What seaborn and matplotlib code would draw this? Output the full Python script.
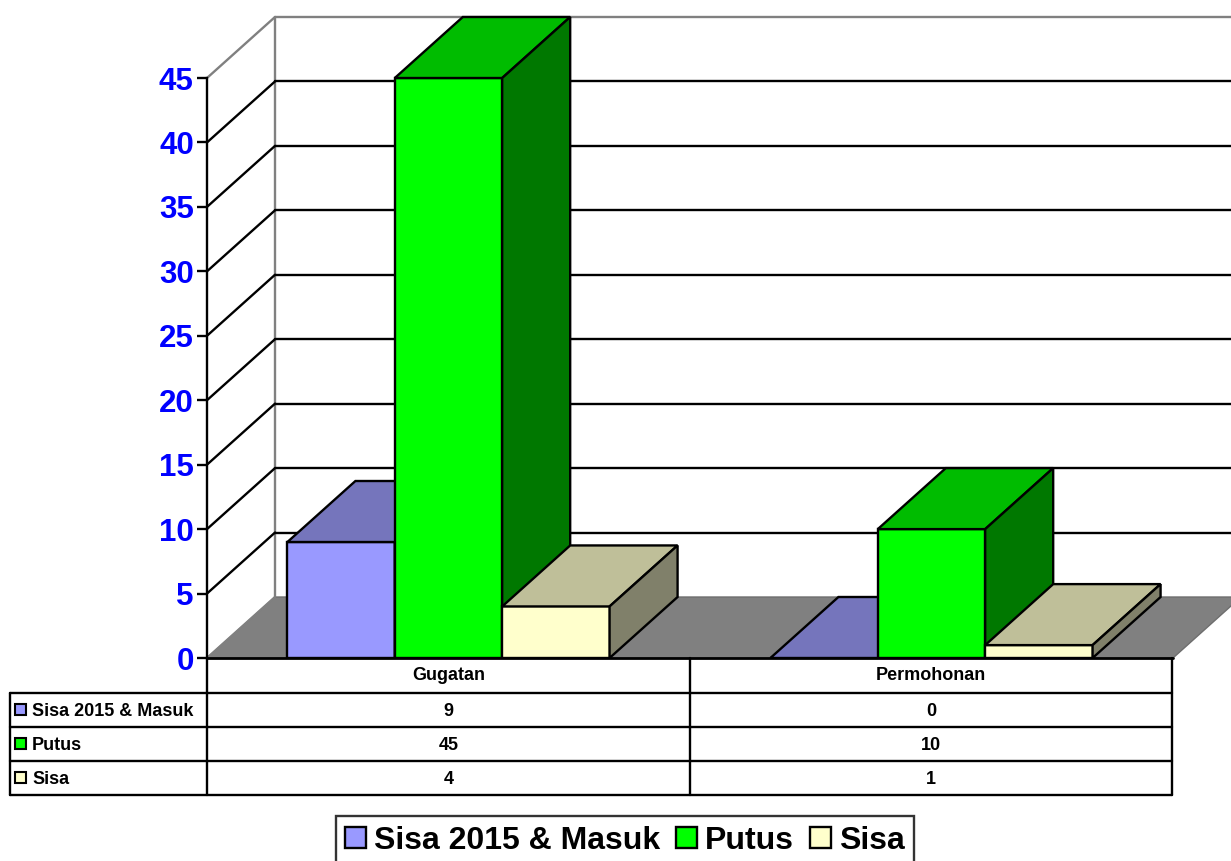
import numpy as np
import pandas as pd
import matplotlib
matplotlib.use("Agg")
import matplotlib.pyplot as plt
from matplotlib.patches import Polygon, Patch, Rectangle
import seaborn as sns

# ---------------- data ----------------
categories = ["Gugatan", "Permohonan"]
series = ["Sisa 2015 & Masuk", "Putus", "Sisa"]
sisa_masuk = [9, 0]
putus = [45, 10]
sisa = [4, 1]
y_ticks = [0, 5, 10, 15, 20, 25, 30, 35, 40, 45]

front_colors = ["#9999FF", "#00FF00", "#FFFFCC"]
top_colors = ["#7575BC", "#00BC00", "#BFBF99"]
side_colors = ["#4D4D80", "#007800", "#80806A"]

values = {series[0]: sisa_masuk, series[1]: putus, series[2]: sisa}
df = pd.DataFrame(
    [(c, s, values[s][i]) for s in series for i, c in enumerate(categories)],
    columns=["cat", "ser", "val"],
)

sns.set_theme(style="white")
plt.rcParams["font.family"] = ["Liberation Sans", "DejaVu Sans"]
plt.rcParams["text.color"] = "black"
plt.rcParams["axes.edgecolor"] = "black"
plt.rcParams["ytick.color"] = "black"

W, H = 1231, 861
fig = plt.figure(figsize=(W / 100, H / 100), dpi=100)

px_per_unit_y = (658 - 78) / 45.0
px_per_cat = 483.0
ax = fig.add_axes([207 / W, (H - 658) / H, (W - 207) / W, 658 / H])
ymax = 658 / px_per_unit_y
xmin = -0.5
xmax = -0.5 + (W - 207) / px_per_cat
dx = 68 / px_per_cat
dy = 61 / px_per_unit_y
LW = 1.7

sns.barplot(data=df, x="cat", y="val", hue="ser", order=categories,
            hue_order=series, palette=front_colors, width=0.667,
            edgecolor="black", linewidth=LW, saturation=1, legend=False,
            ax=ax, zorder=10)

ax.set_xlim(xmin, xmax)
ax.set_ylim(0, ymax)
ax.set_xlabel("")
ax.set_ylabel("")
ax.set_xticks([])
for s in ["top", "right", "bottom"]:
    ax.spines[s].set_visible(False)
ax.spines["left"].set_bounds(0, 45)
ax.spines["left"].set_linewidth(LW)
ax.spines["left"].set_color("black")
ax.spines["left"].set_zorder(30)
ax.set_yticks(y_ticks)
ax.tick_params(axis="y", direction="out", length=7.5, width=LW,
               color="black", left=True, pad=2)
for lab in ax.get_yticklabels():
    lab.set_color("#0000FF")
    lab.set_fontweight("bold")
    lab.set_fontsize(22.5)
    lab.set_family(["Liberation Sans", "DejaVu Sans"])

# floor
floor_right = len(categories) - 0.5
ax.add_patch(Polygon([(xmin, 0), (floor_right, 0), (floor_right + dx, dy),
                      (xmin + dx, dy)], closed=True, facecolor="#808080",
                     edgecolor="#6E6E6E", linewidth=1, zorder=2))
# back wall lines
ax.plot([xmin + dx, xmin + dx], [dy, 45 + dy], color="#808080", lw=LW, zorder=3)
ax.plot([xmin + dx, xmax + 1], [45 + dy, 45 + dy], color="#808080", lw=LW, zorder=3)
for v in y_ticks[1:-1]:
    ax.plot([xmin + dx, xmax + 1], [v + dy, v + dy], color="black", lw=LW, zorder=3)
for v in y_ticks:
    col = "#808080" if v in (0, 45) else "black"
    ax.plot([xmin, xmin + dx], [v, v + dy], color=col, lw=LW, zorder=3)

# 3D faces derived from seaborn bars
bars = sorted([p for p in ax.patches if isinstance(p, Rectangle)],
              key=lambda p: p.get_x())
for i, p in enumerate(bars):
    x0 = p.get_x()
    x1 = x0 + p.get_width()
    h = p.get_height()
    fc = matplotlib.colors.to_hex(p.get_facecolor())
    k = [c.lower() for c in front_colors].index(fc.lower())
    z = 10 + i * 3
    p.set_zorder(z)
    ax.add_patch(Polygon([(x0, h), (x1, h), (x1 + dx, h + dy), (x0 + dx, h + dy)],
                         closed=True, facecolor=top_colors[k], edgecolor="black",
                         linewidth=LW, zorder=z + 1))
    ax.add_patch(Polygon([(x1, 0), (x1, h), (x1 + dx, h + dy), (x1 + dx, dy)],
                         closed=True, facecolor=side_colors[k], edgecolor="black",
                         linewidth=LW, zorder=z + 2))

ax.plot([xmin, floor_right], [0, 0], color="black", lw=2, zorder=40, clip_on=False)

# ---------------- data table (pixel overlay) ----------------
ov = fig.add_axes([0, 0, 1, 1])
ov.set_xlim(0, W)
ov.set_ylim(H, 0)
ov.axis("off")
ov.patch.set_alpha(0)
col_x = [207, 690, 1172]
row_y = [658, 693, 727, 761, 795]
for x in col_x:
    ov.plot([x, x], [658, 795], color="black", lw=LW)
ov.plot([10, 10], [693, 795], color="black", lw=LW)
for y in row_y[1:]:
    ov.plot([10, 1172], [y, y], color="black", lw=LW)
FS = 13
for j, c in enumerate(categories):
    ov.text((col_x[j] + col_x[j + 1]) / 2, 676, c, ha="center", va="center",
            fontsize=FS, fontweight="bold", color="black")
row_vals = [sisa_masuk, putus, sisa]
for r, s in enumerate(series):
    yc = (row_y[r + 1] + row_y[r + 2]) / 2
    ov.add_patch(Rectangle((15, yc - 6), 11, 11, facecolor=front_colors[r],
                           edgecolor="black", linewidth=1.5))
    ov.text(32, yc + 1, s, ha="left", va="center", fontsize=FS,
            fontweight="bold", color="black")
    for j in range(len(categories)):
        ov.text((col_x[j] + col_x[j + 1]) / 2, yc + 1, str(row_vals[r][j]),
                ha="center", va="center", fontsize=FS, fontweight="bold",
                color="black")

# ---------------- legend ----------------
handles = [Patch(facecolor=front_colors[k], edgecolor="black", linewidth=1.7)
           for k in range(len(series))]
leg = fig.legend(handles, series, loc="upper center",
                 bbox_to_anchor=(625 / W, (H - 816) / H), ncol=3,
                 prop={"weight": "bold", "size": 23,
                       "family": ["Liberation Sans", "DejaVu Sans"]},
                 frameon=True, fancybox=False, edgecolor="black",
                 handlelength=0.65, handleheight=0.65, handletextpad=0.25,
                 columnspacing=0.5, borderpad=0.3, borderaxespad=0)
leg.get_frame().set_linewidth(1.7)
for t in leg.get_texts():
    t.set_color("black")

fig.savefig("out.png", dpi=100)
